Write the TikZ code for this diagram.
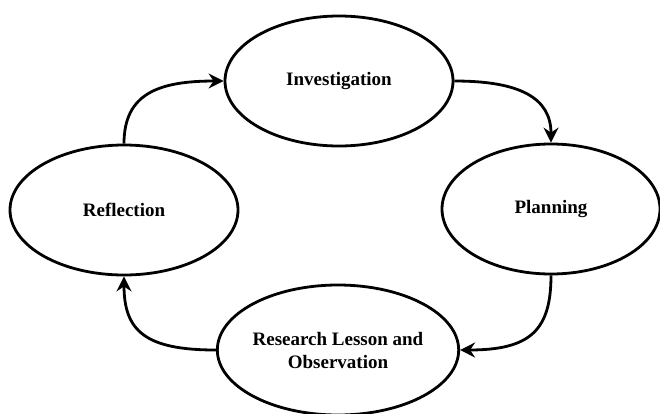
\documentclass[tikz,border=0pt]{standalone}
\usepackage{fontspec}
\setmainfont{Liberation Serif}
\usetikzlibrary{positioning, shapes.geometric, arrows.meta}

\begin{document}
\begin{tikzpicture}[
    x=1pt, y=-1pt,
    stage/.style={ellipse, draw=black, line width=2.8pt, fill=white,
                  minimum width=228pt, minimum height=130pt, inner sep=0pt,
                  align=center, font=\fontsize{19}{23}\selectfont\bfseries},
    arrCycle/.style={-{Stealth[length=15pt, width=15pt, inset=5pt]},
                     line width=2.8pt, black},
  ]
    \useasboundingbox (0,0) rectangle (660,413);

    % The four stages of the cycle
    \node[stage] (INV) at (339,81) {Investigation};
    \node[stage, minimum width=218pt] (PLAN) at (551,209) {Planning};
    \node[stage] (RES) at (338,350) {Research Lesson and\\Observation};
    \node[stage] (REF) at (124,210) {Reflection};

    % Clockwise arrows between stages
    \draw[arrCycle] (INV.east) .. controls +(65,0) and +(0,-45) .. (PLAN.north);
    \draw[arrCycle] (PLAN.south) .. controls +(0,55) and +(70,0) .. (RES.east);
    \draw[arrCycle] (RES.west) .. controls +(-70,0) and +(0,55) .. (REF.south);
    \draw[arrCycle] (REF.north) .. controls +(0,-50) and +(-65,0) .. (INV.west);
  \end{tikzpicture}
\end{document}
